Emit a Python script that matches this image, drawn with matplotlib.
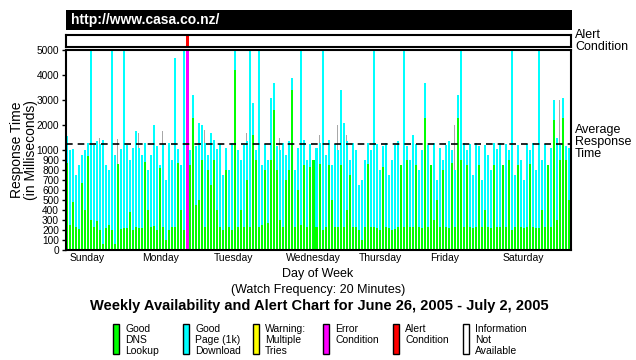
import numpy as np
import matplotlib
matplotlib.use('Agg')
import matplotlib.pyplot as plt
from matplotlib.patches import Rectangle
from matplotlib.transforms import blended_transform_factory

plt.rcParams['font.family'] = ['Liberation Sans', 'DejaVu Sans']

# hourly response time (ms): total (DNS + page download) and DNS part
sun_total = [1550, 1000, 1050, 750, 850, 950, 1000, 1300, 5000, 1200, 1350, 1250,
             1400, 850, 800, 5000, 950, 750, 1050, 5000, 1200, 900, 1100, 1750]
sun_dns = [870, 250, 480, 230, 210, 670, 400, 940, 300, 230, 290, 200,
           60, 220, 250, 200, 60, 860, 210, 220, 220, 380, 200, 230]
mon_total = [1100, 950, 1300, 800, 950, 2000, 1150, 850, 1250, 700, 1300, 900,
             4700, 1050, 850, 5000, 1200, 1000, 3200, 1150, 2100, 2000, 1300, 950]
mon_dns = [220, 220, 880, 400, 230, 240, 200, 820, 230, 100, 200, 230,
           230, 870, 400, 200, 900, 850, 2300, 450, 500, 900, 230, 800]
tue_total = [1700, 1400, 1050, 1250, 750, 1100, 800, 1300, 5000, 1000, 900, 1200,
             1350, 5000, 2900, 1000, 5000, 850, 1250, 900, 3100, 3700, 1150, 1000]
tue_dns = [650, 900, 400, 230, 200, 800, 230, 200, 4200, 230, 400, 230,
           700, 230, 1600, 900, 230, 250, 800, 270, 900, 2600, 800, 300]
wed_total = [1300, 950, 1350, 3900, 800, 1100, 5000, 1400, 900, 1250, 800, 1100,
             1300, 5000, 950, 1400, 850, 1250, 1000, 3400, 2100, 1350, 900, 1300]
wed_dns = [230, 700, 800, 3400, 230, 600, 250, 850, 230, 830, 900, 230,
           860, 200, 230, 850, 500, 230, 230, 850, 230, 400, 750, 230]
thu_total = [1000, 650, 700, 900, 1300, 1000, 5000, 1250, 800, 1150, 1300, 750,
             900, 1200, 1350, 850, 5000, 1150, 900, 1600, 1250, 800, 1000, 3700]
thu_dns = [230, 200, 100, 230, 860, 230, 230, 220, 200, 830, 230, 220,
           200, 210, 230, 850, 230, 900, 230, 230, 850, 230, 220, 2300]
fri_total = [1200, 750, 1300, 700, 1100, 900, 1200, 1350, 1000, 800, 3200, 5000,
             1300, 1000, 1250, 750, 1300, 1150, 700, 1200, 950, 800, 1300, 1050]
fri_dns = [230, 850, 300, 500, 230, 800, 230, 220, 870, 230, 2300, 900,
           230, 850, 230, 220, 230, 850, 230, 400, 230, 220, 850, 230]
sat_total = [1300, 850, 1250, 1000, 5000, 750, 1200, 900, 700, 1250, 1000, 1300,
             800, 5000, 900, 1250, 750, 1100, 3000, 1500, 1200, 3100, 1150, 1100]
sat_dns = [230, 850, 230, 900, 200, 230, 850, 230, 220, 230, 860, 230,
           220, 220, 400, 230, 850, 230, 2200, 300, 900, 2300, 900, 500]

grey_hours = [11, 17, 24, 29, 32, 46, 60, 71, 84, 90, 92, 93, 129, 130, 157, 162, 164]
grey_vals = [1500, 1450, 1700, 1900, 1750, 1800, 1700, 1500, 1600, 2000, 1750, 1600,
             2000, 1800, 1600, 1800, 3000]

error_hours = [40]
alert_hours = [40]
avg_ms = 1250

days = ['Sunday', 'Monday', 'Tuesday', 'Wednesday', 'Thursday', 'Friday', 'Saturday']
yticks = [0, 100, 200, 300, 400, 500, 600, 700, 800, 900, 1000, 2000, 3000, 4000, 5000]

legend_labels = ['Good\nDNS\nLookup', 'Good\nPage (1k)\nDownload', 'Warning:\nMultiple\nTries',
                 'Error\nCondition', 'Alert\nCondition', 'Information\nNot\nAvailable']
legend_colors = ['#00FF00', '#00FFFF', '#FFFF00', '#FF00FF', '#FF0000', '#FFFFFF']

total = sun_total + mon_total + tue_total + wed_total + thu_total + fri_total + sat_total
dns = sun_dns + mon_dns + tue_dns + wed_dns + thu_dns + fri_dns + sat_dns
hours = np.arange(len(total))

W, H = 636, 360


def box(x0, y0, x1, y1):
    return [x0 / W, 1 - y1 / H, (x1 - x0) / W, (y1 - y0) / H]


def fwd(y):
    y = np.asarray(y, dtype=float)
    return np.where(y <= 1000, y / 1000.0, 1 + (y - 1000) / 4000.0)


def inv(v):
    v = np.asarray(v, dtype=float)
    return np.where(v <= 1, v * 1000.0, 1000 + (v - 1) * 4000.0)


fig = plt.figure(figsize=(W / 100, H / 100), dpi=100)

# header bar
fig.add_artist(Rectangle((66 / W, 1 - 30 / H), 506 / W, 20 / H, transform=fig.transFigure,
                         facecolor='black', edgecolor='none'))
fig.text(71 / W, 1 - 20 / H, 'http://www.casa.co.nz/', color='white', fontsize=10,
         fontweight='bold', va='center', ha='left')

# alert strip
ax_a = fig.add_axes(box(66, 35, 571, 47))
ax_a.bar(alert_hours, [1], width=1, align='edge', color='#FF0000', antialiased=False)
ax_a.set_xlim(0, 168)
ax_a.set_ylim(0, 1)
ax_a.set_xticks([])
ax_a.set_yticks([])
for s in ax_a.spines.values():
    s.set_linewidth(1.5)
fig.text(575 / W, 1 - 41 / H, 'Alert\nCondition', fontsize=9, va='center', ha='left',
         linespacing=0.95)

# main chart
ax = fig.add_axes(box(66, 50, 571, 250))
ax.set_yscale('function', functions=(fwd, inv))
ax.bar(grey_hours, grey_vals, width=0.34, align='edge', color='#A8A8A8', antialiased=False)
ax.bar(hours, total, width=0.67, align='edge', color='#00FFFF', antialiased=False)
ax.bar(hours, dns, width=0.67, align='edge', color='#00FF00', antialiased=False)
ax.bar(error_hours, [5000], width=1, align='edge', color='#FF00FF', antialiased=False)
ax.axhline(avg_ms, color='black', linestyle=(0, (4, 3)), linewidth=1.2)
ax.set_xlim(0, 168)
ax.set_ylim(0, 5000)
ax.set_xticks([])
ax.set_yticks(yticks)
ax.set_yticklabels([str(t) for t in yticks], fontsize=7.3,
                   family=['Liberation Sans Narrow', 'Liberation Sans'])
ax.tick_params(axis='y', length=3, width=1, pad=2)
for s in ax.spines.values():
    s.set_linewidth(1.5)

trans = blended_transform_factory(ax.transData, ax.transAxes)
for i, d in enumerate(days):
    ax.text(i * 24 + 1.3, -0.015, d, transform=trans, fontsize=7.5, va='top', ha='left')

fig.text(575 / W, 1 - 142 / H, 'Average\nResponse\nTime', fontsize=9, va='center', ha='left',
         linespacing=0.95)
fig.text(24 / W, 1 - 150 / H, 'Response Time\n(in Milliseconds)', rotation=90, fontsize=10,
         ha='center', va='center', linespacing=1.0)

fig.text(318 / W, 1 - 274 / H, 'Day of Week', fontsize=9, ha='center', va='center')
fig.text(318 / W, 1 - 290 / H, '(Watch Frequency: 20 Minutes)', fontsize=9, ha='center', va='center')
fig.text(319 / W, 1 - 306 / H, 'Weekly Availability and Alert Chart for June 26, 2005 - July 2, 2005',
         fontsize=10.5, fontweight='bold', ha='center', va='center')

# legend
for i, (lab, col) in enumerate(zip(legend_labels, legend_colors)):
    x = 113 + i * 70
    fig.add_artist(Rectangle((x / W, 1 - 354 / H), 6 / W, 30 / H, transform=fig.transFigure,
                             facecolor=col, edgecolor='black', linewidth=1))
    fig.text((x + 12) / W, 1 - 324 / H, lab, fontsize=7.5, va='top', ha='left', linespacing=1.1)

fig.savefig('out.png', dpi=100)
